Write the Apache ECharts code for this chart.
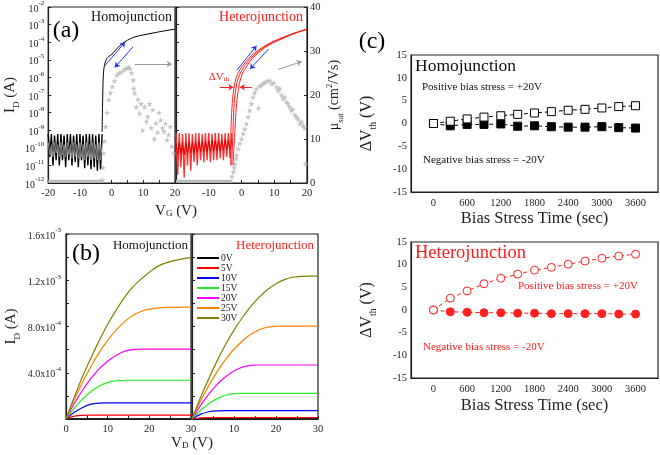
<!DOCTYPE html>
<html><head><meta charset="utf-8">
<script src="https://cdn.jsdelivr.net/npm/echarts@6/dist/echarts.min.js"></script>
<style>html,body{margin:0;padding:0;background:#fff}#c{width:660px;height:455px}</style>
</head><body><div id="c"></div>
<script>
const FONT = '"Liberation Serif","Times New Roman",serif';

// ---------- (a) transfer curves ----------
const vgOff = [-20,-19.5,-19,-18.5,-18,-17.5,-17,-16.5,-16,-15.5,-15,-14.5,-14,-13.5,-13,-12.5,-12,-11.5,-11,-10.5,-10,-9.5,-9,-8.5,-8,-7.5,-7,-6.5,-6,-5.5,-5,-4.5,-4,-3.5,-3];
const homoOffId = [6e-10,3e-11,6e-10,1e-11,5e-10,2e-11,6e-10,1e-11,6e-10,2e-11,5e-10,8e-12,6e-10,2e-11,6e-10,1e-11,5e-10,1.5e-11,6e-10,8e-12,6e-10,2e-11,5e-10,7e-12,6e-10,1e-11,6e-10,6e-12,6e-10,8e-12,5e-10,5e-12,6e-10,6e-12,6e-10];
const homoOffGray = [2e-10,4e-11,1.5e-10,3e-11,2e-10,5e-11,1.5e-10,3e-11,2e-10,4e-11,1.5e-10,3e-11,2e-10,4e-11,1.5e-10,2.5e-11,2e-10,3e-11,1.5e-10,2.5e-11,2e-10,3e-11,1.5e-10,2e-11,2e-10,3e-11,1.5e-10,2e-11,2e-10,2.5e-11,1.5e-10,2e-11,2e-10,2e-11,1.5e-10];
const heteroOffId = [7e-10,3e-12,7e-10,8e-12,6e-10,2e-12,7e-10,1e-11,7e-10,5e-12,6e-10,1.5e-11,7e-10,1e-11,7e-10,2e-11,6e-10,1.5e-11,7e-10,2e-11,7e-10,1.5e-11,6e-10,2e-11,7e-10,2e-11,7e-10,2.5e-11,6e-10,2e-11,7e-10,3e-11,7e-10,2.5e-11,7e-10];
const heteroOffDark = [2e-10,4e-11,2e-10,5e-11,2e-10,4e-11,2e-10,5e-11,2.2e-10,5e-11,2.2e-10,5e-11,2.2e-10,6e-11,2.3e-10,6e-11,2.3e-10,6e-11,2.4e-10,6e-11,2.4e-10,7e-11,2.5e-10,7e-11,2.5e-10,7e-11,2.6e-10,7e-11,2.6e-10,8e-11,2.7e-10,8e-11,2.7e-10,8e-11,2.8e-10];

const homoOnVG = [-3,-2.9,-2.8,-2.7,-2.6,-2.4,-2.2,-2,-1.5,-1,0,1,2,3,5,7,10,13,16,20];
const homoOnId = [8e-10,1e-8,1e-7,6e-7,1.5e-6,3.5e-6,5.5e-6,7.5e-6,1.2e-5,1.5e-5,2.0e-5,3.2e-5,5e-5,7.5e-5,1.3e-4,1.9e-4,2.6e-4,3.3e-4,4.2e-4,5.5e-4];

const heteroOnId = [1e-11,1e-9,1e-8,1e-7,5e-7,1e-6,2e-6,4e-6,8e-6,1.7e-5,3e-5,5e-5,1e-4,1.5e-4,2.5e-4,3.8e-4,5.5e-4];
const heteroVGLeft = [-3.3,-3.2,-3.0,-2.6,-2.0,-1.6,-0.9,0.1,1.4,3.0,4.7,6.3,9.2,11.4,14.3,17.1,20];
const heteroVGMid  = [-3.0,-2.6,-2.4,-2.0,-1.4,-0.9,-0.2,0.8,2.0,3.6,5.2,6.7,9.6,11.8,14.6,17.3,20];
const heteroVGRight= [-2.6,-2.0,-1.7,-1.2,-0.6,-0.1,0.5,1.5,2.6,4.1,5.7,7.2,10.0,12.2,14.9,17.5,20];

const homoMobility = [[-2.9,0.7],[-2.7,3.5],[-2.5,6.8],[-2.2,9.5],[-1.9,12.8],[-1.4,16],[-0.9,18.9],[-0.4,20.5],[0.2,21.9],[0.9,23.2],[1.7,24.5],[2.4,25],[3.2,25.3],[4.0,25.8],[4.7,26.1],[5.3,26.3],[5.8,26],[6.3,25],[6.8,23.4],[7.0,21.5],[7.3,20.4],[7.8,17.3],[8.3,19],[8.8,15.8],[9.3,18],[9.8,12],[10.4,17.3],[11.0,14],[11.4,15.1],[12.0,18],[12.5,12.5],[13.0,16.6],[13.5,10],[14.0,13.6],[14.5,11.5],[15.0,16],[15.5,14.3],[16.0,12.5],[16.5,11.7],[17.0,13.5],[17.5,9.8],[18.0,11],[18.5,12.8],[19.0,8.3],[19.6,6.8]];
const heteroMobility = [[-2.9,1.5],[-2.5,2.5],[-2.2,3.5],[-2,4.4],[-1.7,5.5],[-1.5,6.3],[-1.0,7.8],[-0.5,9],[0,10],[0.5,11.2],[1.0,12.3],[1.5,13.5],[2.0,15],[2.5,16.5],[3.0,18],[3.5,19.5],[4.0,20.5],[4.6,21.4],[5.2,17],[5.5,22],[6.0,22.2],[6.6,22.6],[7.2,22.8],[7.8,23.2],[8.6,23.3],[9.2,22.5],[9.8,22.8],[10.7,21.8],[11.2,21],[11.7,21.5],[12.2,20],[12.7,19.2],[13.2,19.5],[13.7,18.5],[14.2,18],[14.7,17.3],[15.2,16.5],[15.7,16.8],[16.3,15.5],[16.8,15],[17.3,14.5],[17.8,13.5],[18.3,14],[18.8,13.1],[19.3,12.5],[19.6,4.4]];
const gateLeakVG = [-20,-2.8];
const gateLeakMu = [0.4,0.4];

// ---------- (b) output curves ----------
const vd = [0,2,4,6,8,10,12,14,16,18,20,22,24,26,28,30];
const vgNames = ['0V','5V','10V','15V','20V','25V','30V'];
const vgColors = ['#000000','#ff0000','#0000ff','#22ee22','#ff00ff','#ff8000','#808000'];
const homoOut = [
  [0,1e-6,1e-6,1e-6,1e-6,1e-6,1e-6,1e-6,1e-6,1e-6,1e-6,1e-6,1e-6,1e-6,1e-6,1e-6],
  [0,2.5e-5,3.2e-5,3.3e-5,3.3e-5,3.3e-5,3.3e-5,3.3e-5,3.3e-5,3.3e-5,3.3e-5,3.3e-5,3.3e-5,3.3e-5,3.3e-5,3.3e-5],
  [0,5.8e-5,1.0e-4,1.28e-4,1.38e-4,1.4e-4,1.4e-4,1.4e-4,1.4e-4,1.4e-4,1.4e-4,1.4e-4,1.4e-4,1.4e-4,1.4e-4,1.4e-4],
  [0,9.5e-5,1.74e-4,2.38e-4,2.85e-4,3.17e-4,3.3e-4,3.35e-4,3.35e-4,3.35e-4,3.35e-4,3.35e-4,3.35e-4,3.35e-4,3.35e-4,3.35e-4],
  [0,1.34e-4,2.51e-4,3.51e-4,4.35e-4,5.0e-4,5.5e-4,5.85e-4,6.0e-4,6.05e-4,6.05e-4,6.05e-4,6.05e-4,6.05e-4,6.05e-4,6.05e-4],
  [0,1.68e-4,3.2e-4,4.56e-4,5.76e-4,6.8e-4,7.68e-4,8.4e-4,8.96e-4,9.3e-4,9.5e-4,9.6e-4,9.65e-4,9.65e-4,9.67e-4,9.67e-4],
  [0,1.9e-4,3.7e-4,5.3e-4,6.8e-4,8.2e-4,9.4e-4,1.05e-3,1.14e-3,1.21e-3,1.27e-3,1.32e-3,1.35e-3,1.37e-3,1.385e-3,1.395e-3]
];
const heteroOut = [
  [0,1e-6,1e-6,1e-6,1e-6,1e-6,1e-6,1e-6,1e-6,1e-6,1e-6,1e-6,1e-6,1e-6,1e-6,1e-6],
  [0,1.0e-5,1.2e-5,1.2e-5,1.2e-5,1.2e-5,1.2e-5,1.2e-5,1.2e-5,1.2e-5,1.2e-5,1.2e-5,1.2e-5,1.2e-5,1.2e-5,1.2e-5],
  [0,4.0e-5,6.3e-5,7.1e-5,7.2e-5,7.2e-5,7.2e-5,7.2e-5,7.2e-5,7.2e-5,7.2e-5,7.2e-5,7.2e-5,7.2e-5,7.2e-5,7.2e-5],
  [0,7.3e-5,1.32e-4,1.76e-4,2.05e-4,2.2e-4,2.22e-4,2.22e-4,2.22e-4,2.22e-4,2.22e-4,2.22e-4,2.22e-4,2.22e-4,2.22e-4,2.22e-4],
  [0,1.16e-4,2.16e-4,3.0e-4,3.66e-4,4.16e-4,4.49e-4,4.64e-4,4.67e-4,4.67e-4,4.67e-4,4.67e-4,4.67e-4,4.67e-4,4.67e-4,4.67e-4],
  [0,1.53e-4,2.89e-4,4.1e-4,5.15e-4,6.03e-4,6.75e-4,7.32e-4,7.72e-4,7.94e-4,8.02e-4,8.04e-4,8.04e-4,8.04e-4,8.04e-4,8.04e-4],
  [0,1.83e-4,3.51e-4,5.05e-4,6.44e-4,7.69e-4,8.78e-4,9.74e-4,1.054e-3,1.12e-3,1.17e-3,1.205e-3,1.226e-3,1.234e-3,1.236e-3,1.236e-3]
];

// ---------- (c) bias stress ----------
const stressTime = [0,300,600,900,1200,1500,1800,2100,2400,2700,3000,3300,3600];
const homoPos = [0,0.5,1.0,1.4,1.7,2.0,2.3,2.6,2.9,3.1,3.4,3.7,3.9];
const homoNeg = [0,-0.5,-0.2,-0.2,-0.1,-0.6,-0.5,-0.7,-0.8,-0.8,-0.7,-0.9,-1.0];
const heteroPos = [0,2.6,4.2,5.8,7.0,7.9,8.8,9.4,10.1,10.8,11.4,11.9,12.3];
const heteroNeg = [0,-0.4,-0.5,-0.6,-0.6,-0.7,-0.7,-0.8,-0.8,-0.8,-0.8,-0.9,-0.9];
const timeTicks = [0,600,1200,1800,2400,3000,3600];

const zip = (a, b) => a.map((v, i) => [v, b[i]]);
const STAR = 'path://M50,0 L61,35 98,35 68,57 79,91 50,70 21,91 32,57 2,35 39,35Z';
const INK = '#222';
const supRich = {
  b: {fontSize: 10, fontFamily: FONT, color: INK, lineHeight: 14, verticalAlign: 'bottom'},
  s: {fontSize: 7, fontFamily: FONT, color: INK, lineHeight: 9, verticalAlign: 'top'}
};
const nameRich = (fs) => ({
  sub: {fontSize: fs*0.6, fontFamily: FONT, color: INK, lineHeight: fs*0.6, verticalAlign: 'bottom', padding:[0,0,-2,0]},
  sup: {fontSize: fs*0.6, fontFamily: FONT, color: INK, lineHeight: fs*0.6, verticalAlign: 'top'}
});

function axisBase(extra) {
  return Object.assign({
    axisLine: {show: true, onZero: false, lineStyle: {color: INK, width: 1.2}},
    axisTick: {show: true, inside: true, length: 3, lineStyle: {color: INK, width: 1}},
    splitLine: {show: false},
    axisLabel: {fontFamily: FONT, fontSize: 10.5, color: INK, margin: 4}
  }, extra);
}
const gridBox = (l, t, w, h) => ({left: l, top: t, width: w, height: h, show: true, borderColor: INK, borderWidth: 1.2, backgroundColor: 'transparent'});

const arrow = (x1, y1, x2, y2, color, curv, w) => [{coord: [x1, y1], lineStyle: {color: color, width: w || 1, type: 'solid', curveness: curv}}, {coord: [x2, y2]}];

const series = [];
// (a) homojunction
series.push({type: 'line', xAxisIndex: 0, yAxisIndex: 1, data: zip(gateLeakVG, gateLeakMu), showSymbol: false, lineStyle: {color: '#bdbdbd', width: 3}, silent: true});
series.push({type: 'scatter', xAxisIndex: 0, yAxisIndex: 1, data: homoMobility, symbol: STAR, symbolSize: 6, itemStyle: {color: '#b3b3b3'}, silent: true});
series.push({type: 'line', xAxisIndex: 0, yAxisIndex: 0, data: zip(vgOff, homoOffId), showSymbol: false, lineStyle: {color: '#000', width: 1.4}, silent: true});
series.push({type: 'line', xAxisIndex: 0, yAxisIndex: 0, data: zip(vgOff, homoOffGray), showSymbol: false, lineStyle: {color: '#8a8a8a', width: 1}, silent: true});
series.push({type: 'line', xAxisIndex: 0, yAxisIndex: 0, data: zip(homoOnVG, homoOnId), showSymbol: false, smooth: 0.3, lineStyle: {color: '#000', width: 1}, silent: true,
  markLine: {silent: true, symbol: ['none', 'arrow'], symbolSize: 5, label: {show: false}, animation: false,
    data: [arrow(-2.1, 4.7e-6, 4.2, 1e-4, '#2233ff', -0.35), arrow(6.8, 5.5e-5, 1.0, 3.7e-6, '#2233ff', -0.35), arrow(7.3, 5.7e-6, 19.0, 5.7e-6, '#999', -0.15)]}});
// (a) heterojunction
series.push({type: 'line', xAxisIndex: 1, yAxisIndex: 3, data: zip(gateLeakVG, gateLeakMu), showSymbol: false, lineStyle: {color: '#bdbdbd', width: 3}, silent: true});
series.push({type: 'scatter', xAxisIndex: 1, yAxisIndex: 3, data: heteroMobility, symbol: STAR, symbolSize: 6, itemStyle: {color: '#b3b3b3'}, silent: true});
series.push({type: 'line', xAxisIndex: 1, yAxisIndex: 2, data: zip(vgOff, heteroOffId), showSymbol: false, lineStyle: {color: '#ff3030', width: 1.3}, silent: true});
series.push({type: 'line', xAxisIndex: 1, yAxisIndex: 2, data: zip(vgOff, heteroOffDark), showSymbol: false, lineStyle: {color: '#e00000', width: 1}, silent: true});
series.push({type: 'line', xAxisIndex: 1, yAxisIndex: 2, data: zip(heteroVGLeft, heteroOnId), showSymbol: false, smooth: 0.3, lineStyle: {color: '#ff2020', width: 1}, silent: true});
series.push({type: 'line', xAxisIndex: 1, yAxisIndex: 2, data: zip(heteroVGMid, heteroOnId), showSymbol: false, smooth: 0.3, lineStyle: {color: '#ff2020', width: 1}, silent: true});
series.push({type: 'line', xAxisIndex: 1, yAxisIndex: 2, data: zip(heteroVGRight, heteroOnId), showSymbol: false, smooth: 0.3, lineStyle: {color: '#ff2020', width: 1}, silent: true,
  markLine: {silent: true, symbol: ['none', 'arrow'], symbolSize: 5, label: {show: false}, animation: false,
    data: [arrow(-1.47, 2.5e-6, 4.6, 6.3e-5, '#2233ff', -0.35), arrow(8.2, 4e-5, 2.6, 3e-6, '#2233ff', -0.35), arrow(11.2, 2.8e-6, 18.4, 8e-6, '#999', -0.2),
           arrow(-6.6, 2.8e-7, -2.5, 2.8e-7, '#ff2020', 0), arrow(3.1, 2.8e-7, -0.5, 2.8e-7, '#ff2020', 0)]}});
// (b)
vgNames.forEach((n, i) => {
  series.push({type: 'line', name: n, xAxisIndex: 2, yAxisIndex: 4, data: zip(vd, homoOut[i]), showSymbol: false, smooth: 0.35, lineStyle: {color: vgColors[i], width: 1.2}, itemStyle: {color: vgColors[i]}, silent: true});
  series.push({type: 'line', name: n, xAxisIndex: 3, yAxisIndex: 5, data: zip(vd, heteroOut[i]), showSymbol: false, smooth: 0.35, lineStyle: {color: vgColors[i], width: 1.2}, itemStyle: {color: vgColors[i]}, silent: true});
});
// (c)
const dashed = (c) => ({color: c, width: 1, type: [4, 3]});
series.push({type: 'line', xAxisIndex: 4, yAxisIndex: 6, data: zip(stressTime, homoNeg), symbol: 'rect', symbolSize: 8, showAllSymbol: true, lineStyle: dashed('#000'), itemStyle: {color: '#000', borderColor: '#000', borderWidth: 1}, silent: true});
series.push({type: 'line', xAxisIndex: 4, yAxisIndex: 6, data: zip(stressTime, homoPos), symbol: 'rect', symbolSize: 8, showAllSymbol: true, lineStyle: dashed('#000'), itemStyle: {color: '#fff', borderColor: '#000', borderWidth: 1}, silent: true});
series.push({type: 'line', xAxisIndex: 5, yAxisIndex: 7, data: zip(stressTime, heteroNeg), symbol: 'circle', symbolSize: 8, showAllSymbol: true, lineStyle: dashed('#ff2020'), itemStyle: {color: '#ff2020', borderColor: '#ff2020', borderWidth: 1}, silent: true});
series.push({type: 'line', xAxisIndex: 5, yAxisIndex: 7, data: zip(stressTime, heteroPos), symbol: 'circle', symbolSize: 8, showAllSymbol: true, lineStyle: dashed('#ff2020'), itemStyle: {color: '#fff', borderColor: '#ff2020', borderWidth: 1}, silent: true});

const logFmt = v => '{b|10}{s|' + Math.round(Math.log10(v)) + '}';
const sciFmt = (v, i) => {
  if (i === 0 || i % 2 !== 0) return '';
  const e = Math.floor(Math.log10(v) + 1e-9);
  return '{b|' + (v / Math.pow(10, e)).toFixed(1) + 'x10}{s|' + e + '}';
};
const timeLabel = {fontFamily: FONT, fontSize: 10.5, color: INK, margin: 6, customValues: timeTicks, formatter: v => String(Math.round(v))};

const option = {
  animation: false,
  backgroundColor: '#fff',
  grid: [gridBox(44, 7, 131, 176), gridBox(176, 7, 131, 176), gridBox(66, 234, 125, 185), gridBox(192, 234, 126, 185), gridBox(411, 55, 247, 137), gridBox(411, 242, 247, 136)],
  legend: {data: vgNames, orient: 'vertical', left: 197, top: 253, itemWidth: 22, itemHeight: 2, itemGap: 0, icon: 'rect', padding: 0,
    textStyle: {fontSize: 9.5, fontFamily: FONT, color: INK, padding: [0, 0, 0, -3]}, selectedMode: false},
  xAxis: [
    axisBase({gridIndex: 0, type: 'value', min: -20, max: 20, interval: 5, axisLabel: {fontFamily: FONT, fontSize: 10.5, color: INK, margin: 5, formatter: v => v % 10 === 0 ? String(v) : ''}}),
    axisBase({gridIndex: 1, type: 'value', min: -20, max: 20, interval: 5, axisLabel: {fontFamily: FONT, fontSize: 10.5, color: INK, margin: 5, showMinLabel: false, formatter: v => v % 10 === 0 ? String(v) : ''}}),
    axisBase({gridIndex: 2, type: 'value', min: 0, max: 30, interval: 5, axisLabel: {fontFamily: FONT, fontSize: 10.5, color: INK, margin: 5, formatter: v => v % 10 === 0 ? String(v) : ''}}),
    axisBase({gridIndex: 3, type: 'value', min: 0, max: 30, interval: 5, axisLabel: {fontFamily: FONT, fontSize: 10.5, color: INK, margin: 5, showMinLabel: false, formatter: v => v % 10 === 0 ? String(v) : ''}}),
    axisBase({gridIndex: 4, type: 'value', min: -400, max: 4000, axisTick: {show: false}, axisLabel: timeLabel,
      name: 'Bias Stress Time (sec)', nameLocation: 'middle', nameGap: 14, nameTextStyle: {fontFamily: FONT, fontSize: 16.5, color: INK}}),
    axisBase({gridIndex: 5, type: 'value', min: -400, max: 4000, axisTick: {show: false}, axisLabel: timeLabel,
      name: 'Bias Stress Time (sec)', nameLocation: 'middle', nameGap: 19, nameTextStyle: {fontFamily: FONT, fontSize: 16.5, color: INK}})
  ],
  yAxis: [
    axisBase({gridIndex: 0, type: 'log', logBase: 10, min: 1e-12, max: 1e-2, splitNumber: 10,
      axisLabel: {formatter: logFmt, rich: supRich, margin: 4},
      name: 'I{sub|D} (A)', nameLocation: 'middle', nameRotate: 90, nameGap: 26, nameTextStyle: {fontFamily: FONT, fontSize: 15, color: INK, lineHeight: 18, rich: nameRich(15)}}),
    {gridIndex: 0, type: 'value', min: 0, max: 40, show: false},
    axisBase({gridIndex: 1, type: 'log', logBase: 10, min: 1e-12, max: 1e-2, splitNumber: 10, axisLabel: {show: false}}),
    axisBase({gridIndex: 1, type: 'value', min: 0, max: 40, interval: 10, position: 'right',
      axisLabel: {fontFamily: FONT, fontSize: 10.5, color: INK, margin: 3},
      name: 'μ{sub|sat} (cm{sup|2}/Vs)', nameLocation: 'middle', nameRotate: 90, nameGap: 19, nameTextStyle: {fontFamily: FONT, fontSize: 14, color: INK, lineHeight: 17, rich: nameRich(14)}}),
    axisBase({gridIndex: 2, type: 'value', min: 0, max: 1.6e-3, interval: 2e-4,
      axisLabel: {formatter: sciFmt, rich: supRich, margin: 5},
      name: 'I{sub|D} (A)', nameLocation: 'middle', nameRotate: 90, nameGap: 46, nameTextStyle: {fontFamily: FONT, fontSize: 15, color: INK, lineHeight: 18, rich: nameRich(15)}}),
    axisBase({gridIndex: 3, type: 'value', min: 0, max: 1.6e-3, interval: 2e-4, axisLabel: {show: false}}),
    axisBase({gridIndex: 4, type: 'value', min: -15, max: 15, interval: 5, axisTick: {show: false},
      name: 'ΔV{sub|th} (V)', nameLocation: 'middle', nameRotate: 90, nameGap: 35, nameTextStyle: {fontFamily: FONT, fontSize: 16, color: INK, lineHeight: 18, rich: nameRich(16)}}),
    axisBase({gridIndex: 5, type: 'value', min: -15, max: 15, interval: 5, axisTick: {show: false},
      name: 'ΔV{sub|th} (V)', nameLocation: 'middle', nameRotate: 90, nameGap: 35, nameTextStyle: {fontFamily: FONT, fontSize: 16, color: INK, lineHeight: 18, rich: nameRich(16)}})
  ],
  graphic: [
    {type: 'text', x: 66, y: 31, style: {text: '(a)', font: '24px ' + FONT, fill: '#000', align: 'center', verticalAlign: 'middle', textAlign: 'center', textVerticalAlign: 'middle'}},
    {type: 'text', x: 172, y: 17, style: {text: 'Homojunction', font: '14px ' + FONT, fill: '#111', align: 'right', verticalAlign: 'middle', textAlign: 'right', textVerticalAlign: 'middle'}},
    {type: 'text', x: 303, y: 17, style: {text: 'Heterojunction', font: '14px ' + FONT, fill: '#ff1a1a', align: 'right', verticalAlign: 'middle', textAlign: 'right', textVerticalAlign: 'middle'}},
    {type: 'text', x: 219, y: 77, style: {text: 'ΔV{s|th}', font: '11px ' + FONT, fill: '#ff1a1a', align: 'center', verticalAlign: 'middle', textAlign: 'center', textVerticalAlign: 'middle',
      rich: {s: {fontSize: 7, fill: '#ff1a1a', fontFamily: FONT, verticalAlign: 'bottom', lineHeight: 7}}}},
    {type: 'text', x: 176, y: 211, style: {text: 'V{s|G} (V)', font: '15px ' + FONT, fill: INK, align: 'center', verticalAlign: 'middle', textAlign: 'center', textVerticalAlign: 'middle',
      rich: {s: {fontSize: 9, fill: INK, fontFamily: FONT, verticalAlign: 'bottom', lineHeight: 8}}}},
    {type: 'text', x: 86, y: 254, style: {text: '(b)', font: '24px ' + FONT, fill: '#000', align: 'center', verticalAlign: 'middle', textAlign: 'center', textVerticalAlign: 'middle'}},
    {type: 'text', x: 188, y: 246, style: {text: 'Homojunction', font: '13px ' + FONT, fill: '#111', align: 'right', verticalAlign: 'middle', textAlign: 'right', textVerticalAlign: 'middle'}},
    {type: 'text', x: 314, y: 246, style: {text: 'Heterojunction', font: '13px ' + FONT, fill: '#ff1a1a', align: 'right', verticalAlign: 'middle', textAlign: 'right', textVerticalAlign: 'middle'}},
    {type: 'text', x: 192, y: 443, style: {text: 'V{s|D} (V)', font: '15px ' + FONT, fill: INK, align: 'center', verticalAlign: 'middle', textAlign: 'center', textVerticalAlign: 'middle',
      rich: {s: {fontSize: 9, fill: INK, fontFamily: FONT, verticalAlign: 'bottom', lineHeight: 8}}}},
    {type: 'text', x: 372, y: 42, style: {text: '(c)', font: '24px ' + FONT, fill: '#000', align: 'center', verticalAlign: 'middle', textAlign: 'center', textVerticalAlign: 'middle'}},
    {type: 'text', x: 415, y: 66, style: {text: 'Homojunction', font: '17.5px ' + FONT, fill: '#111', align: 'left', verticalAlign: 'middle', textAlign: 'left', textVerticalAlign: 'middle'}},
    {type: 'text', x: 422, y: 87, style: {text: 'Positive bias stress = +20V', font: '11px ' + FONT, fill: '#111', align: 'left', verticalAlign: 'middle', textAlign: 'left', textVerticalAlign: 'middle'}},
    {type: 'text', x: 423, y: 160, style: {text: 'Negative bias stress = -20V', font: '11px ' + FONT, fill: '#111', align: 'left', verticalAlign: 'middle', textAlign: 'left', textVerticalAlign: 'middle'}},
    {type: 'text', x: 415, y: 253, style: {text: 'Heterojunction', font: '18.5px ' + FONT, fill: '#ff1a1a', align: 'left', verticalAlign: 'middle', textAlign: 'left', textVerticalAlign: 'middle'}},
    {type: 'text', x: 518, y: 286, style: {text: 'Positive bias stress = +20V', font: '11px ' + FONT, fill: '#ff1a1a', align: 'left', verticalAlign: 'middle', textAlign: 'left', textVerticalAlign: 'middle'}},
    {type: 'text', x: 423, y: 347, style: {text: 'Negative bias stress = -20V', font: '11px ' + FONT, fill: '#ff1a1a', align: 'left', verticalAlign: 'middle', textAlign: 'left', textVerticalAlign: 'middle'}}
  ],
  series: series
};
const chart = echarts.init(document.getElementById('c'), null, {renderer: 'canvas'});
chart.setOption(option);
</script>
</body></html>
